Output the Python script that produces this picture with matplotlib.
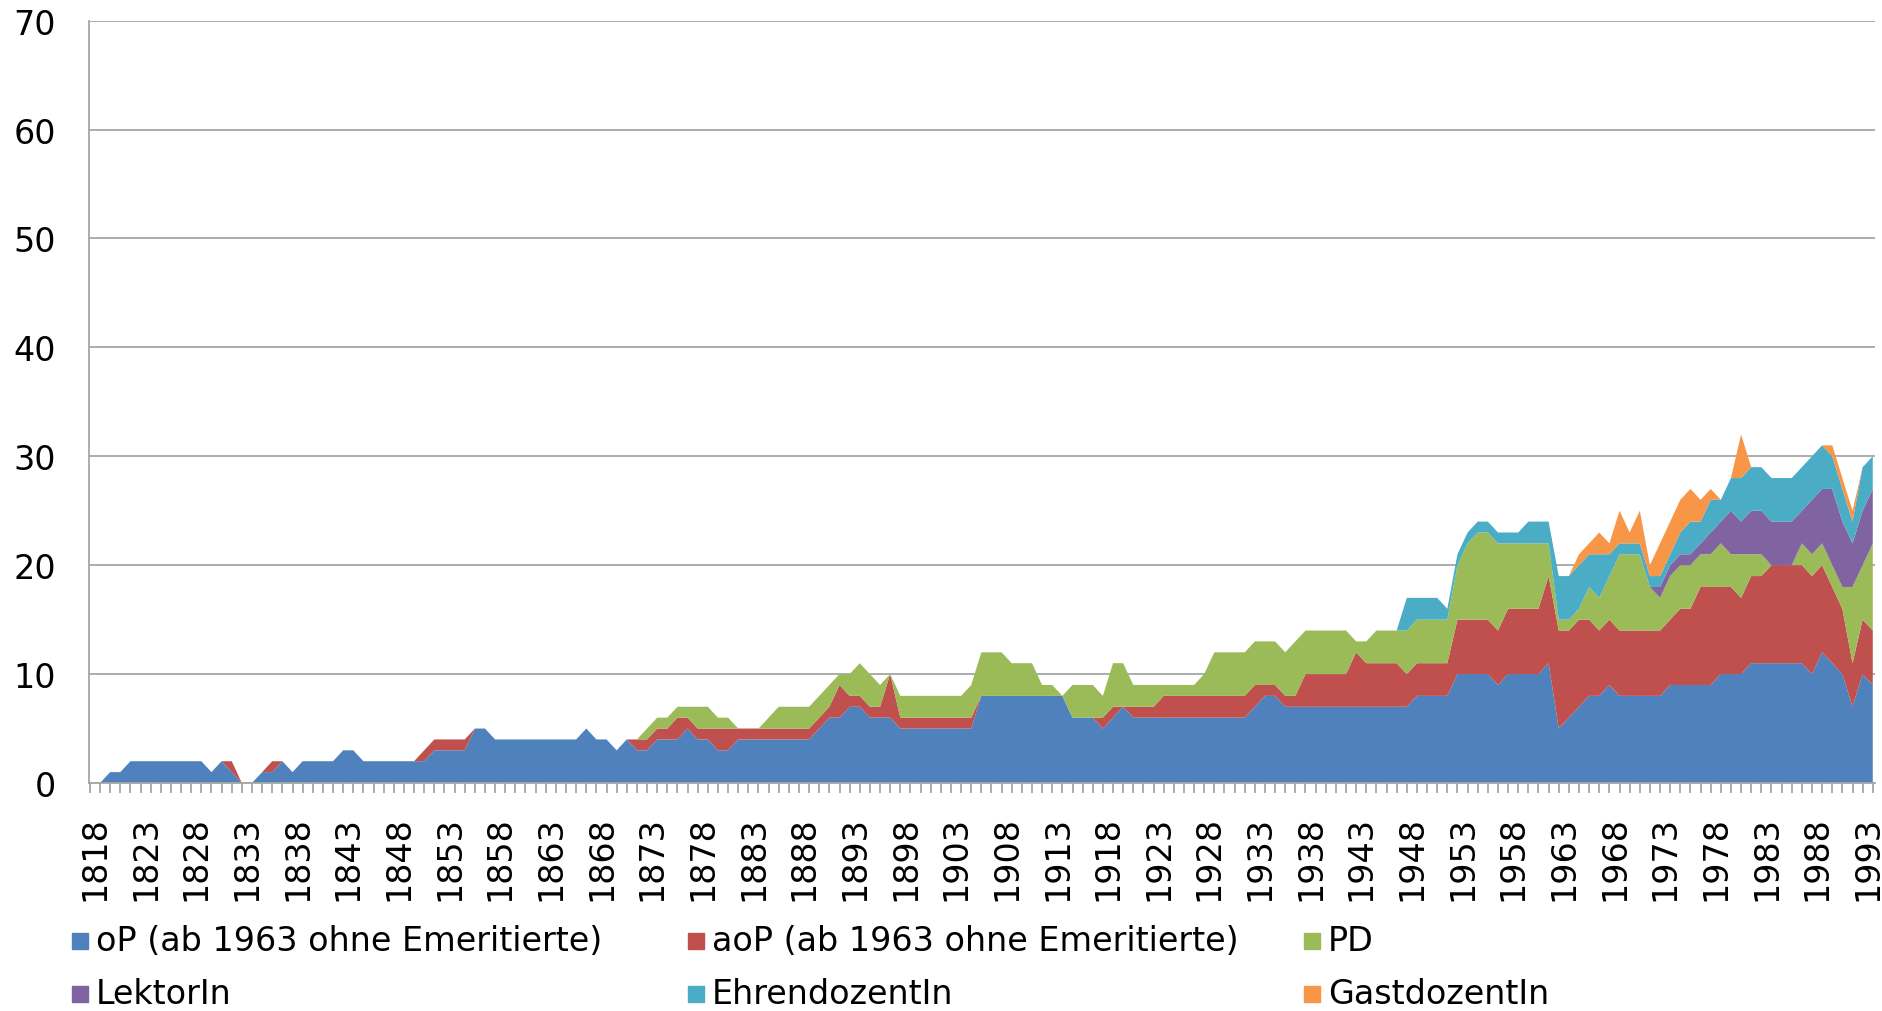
import numpy as np
import matplotlib.pyplot as plt
import matplotlib.transforms as mtransforms
from matplotlib.patches import Rectangle

years = np.arange(1818, 1994)

# rows of ten years, starting 1818, 1828, ...
op = [0, 1, 1, 2, 2, 2, 2, 2, 2, 2,
      2, 1, 2, 1, 0, 0, 1, 1, 2, 1,
      2, 2, 2, 2, 3, 3, 2, 2, 2, 2,
      2, 2, 2, 3, 3, 3, 3, 5, 5, 4,
      4, 4, 4, 4, 4, 4, 4, 4, 5, 4,
      4, 3, 4, 3, 3, 4, 4, 4, 5, 4,
      4, 3, 3, 4, 4, 4, 4, 4, 4, 4,
      4, 5, 6, 6, 7, 7, 6, 6, 6, 5,
      5, 5, 5, 5, 5, 5, 5, 8, 8, 8,
      8, 8, 8, 8, 8, 8, 6, 6, 6, 5,
      6, 7, 6, 6, 6, 6, 6, 6, 6, 6,
      6, 6, 6, 6, 7, 8, 8, 7, 7, 7,
      7, 7, 7, 7, 7, 7, 7, 7, 7, 7,
      8, 8, 8, 8, 10, 10, 10, 10, 9, 10,
      10, 10, 10, 11, 5, 6, 7, 8, 8, 9,
      8, 8, 8, 8, 8, 9, 9, 9, 9, 9,
      10, 10, 10, 11, 11, 11, 11, 11, 11, 10,
      12, 11, 10, 7, 10, 9]

aop = [0, 0, 0, 0, 0, 0, 0, 0, 0, 0,
       0, 0, 0, 1, 0, 0, 0, 1, 0, 0,
       0, 0, 0, 0, 0, 0, 0, 0, 0, 0,
       0, 0, 1, 1, 1, 1, 1, 0, 0, 0,
       0, 0, 0, 0, 0, 0, 0, 0, 0, 0,
       0, 0, 0, 1, 1, 1, 1, 2, 1, 1,
       1, 2, 2, 1, 1, 1, 1, 1, 1, 1,
       1, 1, 1, 3, 1, 1, 1, 1, 4, 1,
       1, 1, 1, 1, 1, 1, 1, 0, 0, 0,
       0, 0, 0, 0, 0, 0, 0, 0, 0, 1,
       1, 0, 1, 1, 1, 2, 2, 2, 2, 2,
       2, 2, 2, 2, 2, 1, 1, 1, 1, 3,
       3, 3, 3, 3, 5, 4, 4, 4, 4, 3,
       3, 3, 3, 3, 5, 5, 5, 5, 5, 6,
       6, 6, 6, 8, 9, 8, 8, 7, 6, 6,
       6, 6, 6, 6, 6, 6, 7, 7, 9, 9,
       8, 8, 7, 8, 8, 9, 9, 9, 9, 9,
       8, 7, 6, 4, 5, 5]

pd_ = [0, 0, 0, 0, 0, 0, 0, 0, 0, 0,
       0, 0, 0, 0, 0, 0, 0, 0, 0, 0,
       0, 0, 0, 0, 0, 0, 0, 0, 0, 0,
       0, 0, 0, 0, 0, 0, 0, 0, 0, 0,
       0, 0, 0, 0, 0, 0, 0, 0, 0, 0,
       0, 0, 0, 0, 1, 1, 1, 1, 1, 2,
       2, 1, 1, 0, 0, 0, 1, 2, 2, 2,
       2, 2, 2, 1, 2, 3, 3, 2, 0, 2,
       2, 2, 2, 2, 2, 2, 3, 4, 4, 4,
       3, 3, 3, 1, 1, 0, 3, 3, 3, 2,
       4, 4, 2, 2, 2, 1, 1, 1, 1, 2,
       4, 4, 4, 4, 4, 4, 4, 4, 5, 4,
       4, 4, 4, 4, 1, 2, 3, 3, 3, 4,
       4, 4, 4, 4, 5, 7, 8, 8, 8, 6,
       6, 6, 6, 3, 1, 1, 1, 3, 3, 4,
       7, 7, 7, 4, 3, 4, 4, 4, 3, 3,
       4, 3, 4, 2, 2, 0, 0, 0, 2, 2,
       2, 2, 2, 7, 5, 8]

lektor = [0, 0, 0, 0, 0, 0, 0, 0, 0, 0,
          0, 0, 0, 0, 0, 0, 0, 0, 0, 0,
          0, 0, 0, 0, 0, 0, 0, 0, 0, 0,
          0, 0, 0, 0, 0, 0, 0, 0, 0, 0,
          0, 0, 0, 0, 0, 0, 0, 0, 0, 0,
          0, 0, 0, 0, 0, 0, 0, 0, 0, 0,
          0, 0, 0, 0, 0, 0, 0, 0, 0, 0,
          0, 0, 0, 0, 0, 0, 0, 0, 0, 0,
          0, 0, 0, 0, 0, 0, 0, 0, 0, 0,
          0, 0, 0, 0, 0, 0, 0, 0, 0, 0,
          0, 0, 0, 0, 0, 0, 0, 0, 0, 0,
          0, 0, 0, 0, 0, 0, 0, 0, 0, 0,
          0, 0, 0, 0, 0, 0, 0, 0, 0, 0,
          0, 0, 0, 0, 0, 0, 0, 0, 0, 0,
          0, 0, 0, 0, 0, 0, 0, 0, 0, 0,
          0, 0, 0, 0, 1, 1, 1, 1, 1, 2,
          2, 4, 3, 4, 4, 4, 4, 4, 3, 5,
          5, 7, 6, 4, 5, 5]

ehren = [0, 0, 0, 0, 0, 0, 0, 0, 0, 0,
         0, 0, 0, 0, 0, 0, 0, 0, 0, 0,
         0, 0, 0, 0, 0, 0, 0, 0, 0, 0,
         0, 0, 0, 0, 0, 0, 0, 0, 0, 0,
         0, 0, 0, 0, 0, 0, 0, 0, 0, 0,
         0, 0, 0, 0, 0, 0, 0, 0, 0, 0,
         0, 0, 0, 0, 0, 0, 0, 0, 0, 0,
         0, 0, 0, 0, 0, 0, 0, 0, 0, 0,
         0, 0, 0, 0, 0, 0, 0, 0, 0, 0,
         0, 0, 0, 0, 0, 0, 0, 0, 0, 0,
         0, 0, 0, 0, 0, 0, 0, 0, 0, 0,
         0, 0, 0, 0, 0, 0, 0, 0, 0, 0,
         0, 0, 0, 0, 0, 0, 0, 0, 0, 3,
         2, 2, 2, 1, 1, 1, 1, 1, 1, 1,
         1, 2, 2, 2, 4, 4, 4, 3, 4, 2,
         1, 1, 1, 1, 1, 1, 2, 3, 2, 3,
         2, 3, 4, 4, 4, 4, 4, 4, 4, 4,
         4, 3, 3, 2, 4, 3]

gast = [0, 0, 0, 0, 0, 0, 0, 0, 0, 0,
        0, 0, 0, 0, 0, 0, 0, 0, 0, 0,
        0, 0, 0, 0, 0, 0, 0, 0, 0, 0,
        0, 0, 0, 0, 0, 0, 0, 0, 0, 0,
        0, 0, 0, 0, 0, 0, 0, 0, 0, 0,
        0, 0, 0, 0, 0, 0, 0, 0, 0, 0,
        0, 0, 0, 0, 0, 0, 0, 0, 0, 0,
        0, 0, 0, 0, 0, 0, 0, 0, 0, 0,
        0, 0, 0, 0, 0, 0, 0, 0, 0, 0,
        0, 0, 0, 0, 0, 0, 0, 0, 0, 0,
        0, 0, 0, 0, 0, 0, 0, 0, 0, 0,
        0, 0, 0, 0, 0, 0, 0, 0, 0, 0,
        0, 0, 0, 0, 0, 0, 0, 0, 0, 0,
        0, 0, 0, 0, 0, 0, 0, 0, 0, 0,
        0, 0, 0, 0, 0, 0, 1, 1, 2, 1,
        3, 1, 3, 1, 3, 3, 3, 3, 2, 1,
        0, 0, 4, 0, 0, 0, 0, 0, 0, 0,
        0, 1, 1, 1, 0, 0]

labels = ['oP (ab 1963 ohne Emeritierte)', 'aoP (ab 1963 ohne Emeritierte)', 'PD',
          'LektorIn', 'EhrendozentIn', 'GastdozentIn']
colors = ['#4f81bd', '#c0504d', '#9bbb59', '#8064a2', '#4bacc6', '#f79646']
gray = '#a6a6a6'
fsize = 24

W, H = 1882, 1012
fig = plt.figure(figsize=(W / 100, H / 100), dpi=100)
ax = fig.add_axes([89 / W, 1 - 784 / H, (1875 - 89) / W, (784 - 21.6) / H])

ax.stackplot(years, op, aop, pd_, lektor, ehren, gast, colors=colors, linewidth=0)

ax.set_xlim(1816.91, 1993.22)
ax.set_ylim(0, 70)
ax.set_yticks(range(0, 71, 10))
ax.yaxis.grid(True, color=gray, linewidth=1.3)
ax.set_axisbelow(True)

for side in ['top', 'right']:
    ax.spines[side].set_visible(False)
for side in ['left', 'bottom']:
    ax.spines[side].set_color(gray)
    ax.spines[side].set_linewidth(1.3)

ax.tick_params(axis='y', length=0, pad=24, labelsize=fsize)
ax.set_xticks(years[::5])
ax.set_xticklabels([str(y) for y in years[::5]], rotation=90)
ax.set_xticks(np.arange(1817, 1994), minor=True)
ax.tick_params(axis='x', which='both', length=7, width=1.3, color=gray, direction='out')
ax.tick_params(axis='x', which='major', pad=16, labelsize=fsize)

shift = mtransforms.ScaledTranslation(-5 / 100, 0, fig.dpi_scale_trans)
for lbl in ax.get_xticklabels():
    lbl.set_transform(lbl.get_transform() + shift)

# legend, 3 columns x 2 rows like the original
col_x = [96, 712, 1328]
row_y = [942, 995]
for i in range(len(labels)):
    tx = col_x[i % 3]
    ty = row_y[i // 3]
    fig.patches.append(Rectangle(((tx - 24) / W, 1 - (ty + 8) / H), 16 / W, 16 / H,
                                 transform=fig.transFigure, color=colors[i]))
    fig.text(tx / W, 1 - ty / H, labels[i], fontsize=fsize, va='center', ha='left')

plt.savefig('out.png', dpi=100)
